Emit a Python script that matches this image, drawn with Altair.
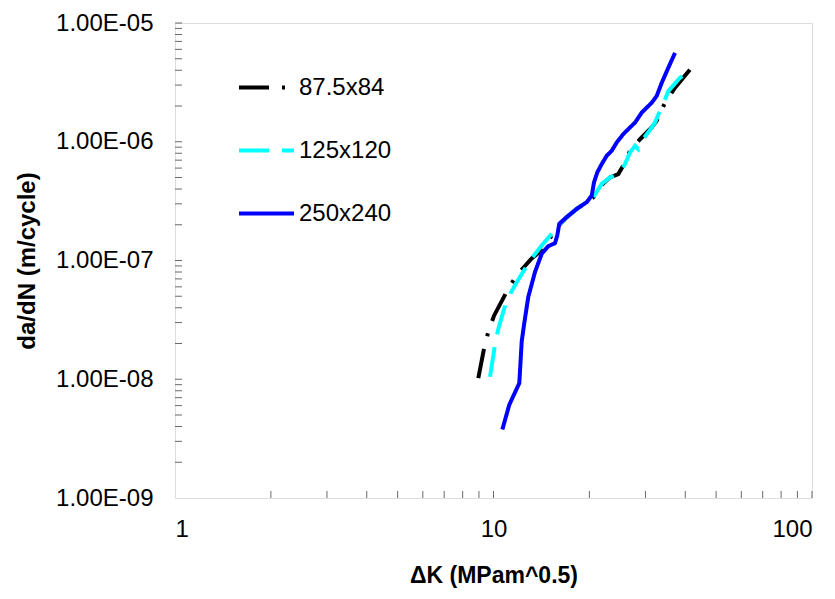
import altair as alt
import pandas as pd

# ---- data ----
series_names = ["87.5x84", "125x120", "250x240"]

dk_875 = [8.96, 9.34, 9.63, 10.04, 11.13, 11.82, 13.18, 14.17, 15.23, 15.97, 16.98, 18.25, 19.62, 20.58,
          21.86, 23.21, 24.65, 25.87, 26.83, 28.84, 31.38, 32.54, 34.55, 37.15, 41.40, 42.93]
da_875 = [1.02e-8, 1.82e-8, 2.51e-8, 3.43e-8, 5.80e-8, 7.51e-8, 1.04e-7, 1.22e-7, 1.62e-7, 1.95e-7, 2.32e-7, 2.72e-7, 3.10e-7, 3.41e-7,
          4.33e-7, 5.01e-7, 5.34e-7, 6.70e-7, 8.40e-7, 1.05e-6, 1.32e-6, 1.50e-6, 2.13e-6, 2.85e-6, 4.06e-6, 4.47e-6]

dk_125 = [9.75, 10.11, 10.35, 11.00, 11.68, 13.02, 14.17, 15.23, 15.97, 16.98, 18.25, 19.62, 20.58,
          21.86, 23.21, 24.65, 25.87, 26.83, 27.82, 28.49, 29.20, 30.62, 32.14, 33.33, 34.55, 35.39, 38.51, 40.43, 42.40]
da_125 = [1.05e-8, 1.95e-8, 2.65e-8, 4.64e-8, 6.19e-8, 1.00e-7, 1.34e-7, 1.68e-7, 1.97e-7, 2.32e-7, 2.72e-7, 3.10e-7, 3.41e-7,
          4.41e-7, 5.01e-7, 5.34e-7, 6.48e-7, 8.13e-7, 9.25e-7, 8.66e-7, 1.02e-6, 1.20e-6, 1.45e-6, 1.82e-6, 2.27e-6, 2.67e-6, 3.46e-6, 3.81e-6, 4.06e-6]

dk_250 = [10.66, 11.21, 12.05, 12.16, 12.26, 12.47, 12.86, 13.50, 14.17, 14.86, 15.60, 15.86, 16.09, 16.98, 18.25, 19.62,
          20.34, 20.68, 21.18, 21.86, 22.67, 23.50, 24.37, 25.56, 26.83, 27.82, 29.20, 31.38, 32.54, 33.75, 35.39, 37.15]
da_250 = [3.77e-9, 6.10e-9, 9.27e-9, 1.41e-8, 2.07e-8, 2.88e-8, 4.94e-8, 8.01e-8, 1.14e-7, 1.32e-7, 1.40e-7, 1.63e-7, 2.04e-7, 2.32e-7, 2.72e-7, 3.10e-7,
          3.52e-7, 4.55e-7, 5.52e-7, 6.48e-7, 7.62e-7, 8.39e-7, 9.86e-7, 1.16e-6, 1.32e-6, 1.45e-6, 1.76e-6, 2.13e-6, 2.43e-6, 3.14e-6, 4.20e-6, 5.60e-6]

x_major = [1, 10, 100]
y_major = [1e-9, 1e-8, 1e-7, 1e-6, 1e-5]
x_ticks = [m * d for d in (1, 10) for m in range(2, 11)]
y_ticks = [m * d for d in (1e-9, 1e-8, 1e-7, 1e-6) for m in range(2, 11)]

colors = ["#000000", "#00FFFF", "#0000FF"]
dashes = [[30, 13, 3, 13], [30, 13], [1, 0]]

# ---- build table ----
rows = []
for name, xs, ys in [(series_names[0], dk_875, da_875), (series_names[1], dk_125, da_125), (series_names[2], dk_250, da_250)]:
    for i, (a, b) in enumerate(zip(xs, ys)):
        rows.append({"series": name, "dk": a, "dadn": b, "i": i})
df = pd.DataFrame(rows)

W, H = 637, 475
FONT = "Liberation Sans"
GRAY = "#6a6a6a"

xscale = alt.Scale(type="log", domain=[1, 100], nice=False)
yscale = alt.Scale(type="log", domain=[1e-9, 1e-5], nice=False)

xaxis = alt.Axis(values=x_major, format="d", ticks=False, domain=False, grid=False,
                 labelFont=FONT, labelFontSize=24, labelColor="#000000", labelPadding=19,
                 titleFont=FONT, titleFontSize=23, titleFontWeight="bold", titleColor="#000000",
                 titlePadding=23)
yaxis = alt.Axis(values=y_major, ticks=False, domain=False, grid=False,
                 labelExpr="'1.00E-0' + format(-round(log(datum.value)/LN10), 'd')",
                 labelFont=FONT, labelFontSize=24, labelColor="#000000", labelPadding=22,
                 titleFont=FONT, titleFontSize=24, titleFontWeight="bold", titleColor="#000000",
                 titlePadding=16)
XT = "\u0394K (MPam^0.5)"
YT = "da/dN (m/cycle)"

lines = alt.Chart(df).mark_line(strokeWidth=4, clip=True).encode(
    x=alt.X("dk:Q", scale=xscale, title=XT, axis=xaxis),
    y=alt.Y("dadn:Q", scale=yscale, title=YT, axis=yaxis),
    color=alt.Color("series:N", scale=alt.Scale(domain=series_names, range=colors),
                    legend=alt.Legend(title=None, orient="none", legendX=62, legendY=35, padding=0,
                                      symbolType="stroke", symbolSize=3025, symbolStrokeWidth=4,
                                      labelFont=FONT, labelFontSize=24, labelColor="#000000",
                                      labelOffset=3, rowPadding=21, labelLimit=300)),
    strokeDash=alt.StrokeDash("series:N", scale=alt.Scale(domain=series_names, range=dashes), legend=None),
    order="i:Q",
)

xt = alt.Chart(pd.DataFrame({"t": x_ticks})).mark_rule(color=GRAY, strokeWidth=1).encode(
    x=alt.X("t:Q", scale=xscale, title=XT, axis=xaxis),
    y=alt.value(H), y2=alt.value(H - 7),
)
yt = alt.Chart(pd.DataFrame({"t": y_ticks})).mark_rule(color=GRAY, strokeWidth=1).encode(
    y=alt.Y("t:Q", scale=yscale, title=YT, axis=yaxis),
    x=alt.value(0), x2=alt.value(7),
)

chart = alt.layer(lines, xt, yt).properties(
    width=W, height=H,
    autosize="none",
    padding={"left": 167, "top": 15, "right": 15, "bottom": 94},
).configure_view(stroke=GRAY, strokeWidth=1.5).configure(background="#ffffff")

chart.save("out.html", embed_options={"renderer": "svg", "actions": False})
